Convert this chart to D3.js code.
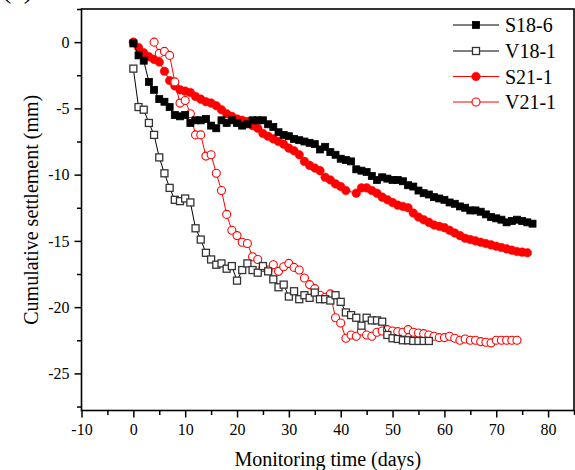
<!DOCTYPE html>
<html>
<head>
<meta charset="utf-8">
<script src="https://cdn.jsdelivr.net/npm/d3@7"></script>
<style>
  body { margin: 0; background: #fff; }
  text { font-family: "Liberation Serif", "Times New Roman", serif; }
</style>
</head>
<body>
<script>
// settlement data (days, mm)
const s186Days = [0,1,2,3,4,5,6,7,8,9,10,11,12,13,14,15,16,17,18,19,20,21,22,23,24,25,26,27,28,29,30,31,32,33,34,35,36,37,38,39,40,41,42,43,44,45,46,47,48,49,50,51,52,53,54,55,56,57,58,59,60,61,62,63,64,65,66,67,68,69,70,71,72,73,74,75,76,77]
const s186Vals = [-0.1,-1.0,-1.4,-3.0,-3.6,-4.3,-4.5,-4.9,-5.5,-5.6,-5.5,-6.1,-5.9,-5.9,-5.8,-6.3,-6.5,-5.9,-6.1,-5.9,-6.1,-6.3,-6.2,-5.9,-5.9,-5.9,-6.2,-6.4,-6.8,-7.0,-7.1,-7.3,-7.4,-7.5,-7.6,-7.7,-8.1,-7.9,-8.3,-8.5,-8.8,-8.9,-9.0,-9.6,-9.7,-9.8,-10.1,-10.4,-10.2,-10.3,-10.4,-10.4,-10.5,-10.8,-10.9,-11.2,-11.4,-11.5,-11.7,-11.8,-11.9,-12.1,-12.2,-12.4,-12.5,-12.7,-12.7,-12.8,-13.0,-13.2,-13.3,-13.4,-13.6,-13.5,-13.4,-13.5,-13.6,-13.7]

const v181Days = [0,1,2,3,4,5,6,7,8,9,10,11,12,13,14,15,16,17,18,19,20,21,22,23,24,25,26,27,28,29,30,31,32,33,34,35,36,37,38,39,40,41,42,43,44,45,46,47,48,49,50,51,52,53,54,55,56,57]
const v181Vals = [-2.0,-4.9,-5.1,-6.1,-7.0,-8.7,-9.9,-11.0,-11.9,-12.0,-11.8,-12.1,-14.05,-14.9,-15.9,-16.4,-16.8,-16.7,-17.1,-16.9,-18.0,-17.2,-16.7,-17.2,-17.4,-16.9,-17.3,-17.9,-18.5,-18.3,-19.2,-18.8,-19.4,-19.1,-19.3,-18.9,-19.4,-19.4,-19.5,-19.1,-19.6,-20.4,-20.6,-20.8,-21.4,-20.8,-21.0,-21.0,-21.1,-22.1,-22.35,-22.4,-22.5,-22.5,-22.55,-22.55,-22.55,-22.55]

const s211Days = [0,1,2,3,4,5,6,7,8,9,10,11,12,13,14,15,16,17,18,19,20,21,22,23,24,25,26,27,28,29,30,31,32,33,34,35,36,37,38,39,40,41,43,44,45,46,47,48,49,50,51,52,53,54,55,56,57,58,59,60,61,62,63,64,65,66,67,68,69,70,71,72,73,74,75,76]
const s211Vals = [0,-0.4,-0.8,-1.1,-1.3,-1.5,-2.2,-2.9,-3.3,-3.6,-3.7,-3.8,-4.1,-4.3,-4.5,-4.6,-4.8,-5.1,-5.4,-5.6,-5.8,-5.9,-6.0,-6.3,-6.5,-6.9,-7.1,-7.3,-7.5,-7.7,-8.0,-8.2,-8.5,-9.0,-9.3,-9.5,-9.7,-10.2,-10.4,-10.7,-10.9,-11.2,-11.4,-11.0,-11.0,-11.2,-11.4,-11.7,-11.9,-12.1,-12.3,-12.4,-12.5,-12.9,-13.2,-13.4,-13.6,-13.8,-13.9,-14.0,-14.2,-14.4,-14.6,-14.8,-14.9,-15.0,-15.1,-15.2,-15.3,-15.4,-15.5,-15.6,-15.7,-15.8,-15.85,-15.9]

const v211Days = [4,5,6,7,8,9,10,11,12,13,14,15,16,17,18,19,20,21,22,23,24,25,26,27,28,29,30,31,32,33,34,35,36,37,38,39,40,41,42,43,44,45,46,47,48,49,50,51,52,53,54,55,56,57,58,59,60,61,62,63,64,65,66,67,68,69,70,71,72,73,74]
const v211Vals = [0,-0.85,-0.7,-1.0,-3.0,-4.6,-4.4,-5.4,-7.0,-7.0,-8.6,-8.5,-9.9,-11.2,-13.0,-14.2,-14.6,-15.1,-15.2,-16.2,-16.4,-17.0,-17.2,-16.8,-17.3,-16.95,-16.7,-17.0,-17.2,-17.8,-18.3,-18.6,-19.1,-19.25,-19.0,-20.8,-21.2,-22.35,-22.1,-22.2,-21.8,-22.1,-22.2,-21.9,-21.8,-21.7,-21.8,-21.85,-21.9,-21.7,-21.9,-21.95,-22.0,-22.1,-22.2,-22.3,-22.3,-22.2,-22.35,-22.5,-22.4,-22.5,-22.5,-22.6,-22.65,-22.7,-22.5,-22.5,-22.5,-22.5,-22.5]

const xTicks = [-10,0,10,20,30,40,50,60,70,80]
const yTicks = [0,-5,-10,-15,-20,-25]

const w = 575
const h = 470
const mLeft = 81.5, mRight = 574, mTop = 9, mBottom = 410.5

const x = d3.scaleLinear().domain([-10, 85]).range([mLeft, mRight])
const y = d3.scaleLinear().domain([-27.8, 2.5]).range([mBottom, mTop])

const svg = d3.select('body')
  .append('svg')
  .attr('width', w)
  .attr('height', h)

// panel label, mostly cut off at the top like the source figure
svg.append('text')
  .attr('x', 2)
  .attr('y', -2)
  .attr('font-size', 28)
  .text('(a)')

const series = [
  {name: 'S21-1', days: s211Days, vals: s211Vals, color: 'red', shape: 'circle', filled: true},
  {name: 'V21-1', days: v211Days, vals: v211Vals, color: 'red', shape: 'circle', filled: false},
  {name: 'S18-6', days: s186Days, vals: s186Vals, color: 'black', shape: 'square', filled: true},
  {name: 'V18-1', days: v181Days, vals: v181Vals, color: 'black', shape: 'square', filled: false}
]

const line = d3.line()
  .x(d => x(d[0]))
  .y(d => y(d[1]))

function drawMarker(g, shape, filled, color) {
  if (shape === 'square') {
    g.append('rect')
      .attr('x', -3.5).attr('y', -3.5)
      .attr('width', 7).attr('height', 7)
      .attr('fill', filled ? color : 'white')
      .attr('stroke', filled ? color : '#333')
      .attr('stroke-width', filled ? 0.8 : 1.3)
  } else {
    g.append('circle')
      .attr('r', filled ? 4.3 : 4)
      .attr('fill', filled ? color : 'white')
      .attr('stroke', color)
      .attr('stroke-width', filled ? 0.5 : 1.1)
  }
}

series.forEach(s => {
  const pts = s.days.map((d, i) => [d, s.vals[i]])
  svg.append('path')
    .datum(pts)
    .attr('d', line)
    .attr('fill', 'none')
    .attr('stroke', s.color)
    .attr('stroke-width', 1)
  svg.append('g')
    .selectAll('g')
    .data(pts)
    .enter()
    .append('g')
    .attr('transform', d => `translate(${x(d[0])},${y(d[1])})`)
    .each(function() { drawMarker(d3.select(this), s.shape, s.filled, s.color) })
})

// axes (plain hyphen for negatives, as in the figure)
const xMinor = [-5,5,15,25,35,45,55,65,75,85]
const yMinor = [2.5,-2.5,-7.5,-12.5,-17.5,-22.5,-27.5]
const fmt = d => String(d)

svg.append('g')
  .attr('transform', `translate(0,${mBottom})`)
  .call(d3.axisBottom(x).tickValues(xMinor).tickSize(4.5).tickFormat(''))
svg.append('g')
  .attr('transform', `translate(0,${mBottom})`)
  .call(d3.axisBottom(x).tickValues(xTicks).tickSize(7).tickPadding(6).tickFormat(fmt))
  .selectAll('text')
  .attr('font-size', 16)
  .attr('font-family', '"Liberation Serif", serif')
  .attr('fill', 'black')

svg.append('g')
  .attr('transform', `translate(${mLeft},0)`)
  .call(d3.axisLeft(y).tickValues(yMinor).tickSize(4.5).tickFormat(''))
svg.append('g')
  .attr('transform', `translate(${mLeft},0)`)
  .call(d3.axisLeft(y).tickValues(yTicks).tickSize(7).tickPadding(5).tickFormat(fmt))
  .selectAll('text')
  .attr('font-size', 16)
  .attr('font-family', '"Liberation Serif", serif')
  .attr('fill', 'black')

svg.selectAll('.domain').remove()
svg.selectAll('.tick line').attr('stroke', 'black').attr('stroke-width', 1.5)

// frame
svg.append('rect')
  .attr('x', mLeft)
  .attr('y', mTop)
  .attr('width', mRight - mLeft)
  .attr('height', mBottom - mTop)
  .attr('fill', 'none')
  .attr('stroke', 'black')
  .attr('stroke-width', 1.6)

// axis titles
svg.append('text')
  .attr('x', (mLeft + mRight) / 2)
  .attr('y', 466)
  .attr('text-anchor', 'middle')
  .attr('font-size', 20)
  .text('Monitoring time (days)')

svg.append('text')
  .attr('transform', `translate(38,${(mTop + mBottom) / 2}) rotate(-90)`)
  .attr('text-anchor', 'middle')
  .attr('font-size', 20)
  .text('Cumulative settlement (mm)')

// legend
const legendOrder = ['S18-6', 'V18-1', 'S21-1', 'V21-1']
const legendY = [25, 51, 76.5, 102]
legendOrder.forEach((name, i) => {
  const s = series.find(d => d.name === name)
  const g = svg.append('g').attr('transform', `translate(0,${legendY[i]})`)
  g.append('line')
    .attr('x1', 453).attr('x2', 499)
    .attr('stroke', s.color)
    .attr('stroke-width', 1)
  const m = g.append('g').attr('transform', 'translate(476,0)')
  drawMarker(m, s.shape, s.filled, s.color)
  g.append('text')
    .attr('x', 505)
    .attr('y', 7)
    .attr('font-size', 20)
    .text(name)
})
</script>
</body>
</html>
